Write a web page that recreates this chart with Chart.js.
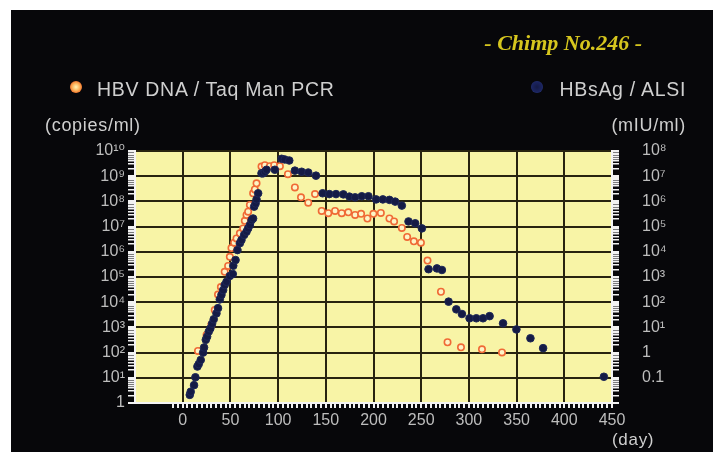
<!DOCTYPE html>
<html>
<head>
<meta charset="utf-8">
<script src="https://cdn.jsdelivr.net/npm/chart.js@4.4.1/dist/chart.umd.min.js"></script>
<style>
  body { margin: 0; background: #fff; }
  #wrap { position: relative; width: 713px; height: 452px; overflow: hidden; }
  #panel { position: absolute; left: 11px; top: 10px; width: 702px; height: 442px; background: #07070a; }
  canvas { position: absolute; left: 0; top: 0; }
  .t { position: absolute; white-space: nowrap; line-height: 1; font-family: "Liberation Sans", Arial, sans-serif; color: #cfcfcf; letter-spacing: 0.7px; }
  #title { right: 71px; top: 32px; font-family: "Liberation Serif", serif; font-style: italic; font-weight: bold; font-size: 22px; color: #d6c61e; letter-spacing: 0; }
  .dot { position: absolute; width: 12px; height: 12px; border-radius: 50%; }
  #dotA { left: 70px; top: 81px; background: radial-gradient(circle, #fff3b8 0%, #fbb860 40%, #f0641f 80%, #d84a14 100%); }
  #dotB { left: 531px; top: 81px; background: radial-gradient(circle, #141a44 0%, #1b2460 60%, #3a55a8 100%); }
</style>
</head>
<body>
<div id="wrap">
  <div id="panel"></div>
  <canvas id="chart" width="713" height="452"></canvas>
  <div class="t" id="title">- Chimp No.246 -</div>
  <div class="dot" id="dotA"></div>
  <div class="t" style="left:97px; top:79.5px; font-size:19.5px;">HBV DNA / Taq Man PCR</div>
  <div class="dot" id="dotB"></div>
  <div class="t" style="right:27px; top:79.5px; font-size:19.5px;">HBsAg / ALSI</div>
  <div class="t" style="left:45px; top:116px; font-size:18px;">(copies/ml)</div>
  <div class="t" style="right:27px; top:116px; font-size:18px;">(mIU/ml)</div>
  <div class="t" style="left:612px; top:431px; font-size:17px;">(day)</div>
</div>
<script>
// HBV DNA (copies/ml), open orange circles
const hbvDays = [16, 25, 30, 33.6, 37, 40, 44, 47.6, 49.4, 51.1, 53.9, 56.4, 59.9, 63.4, 65.1, 66.9, 68.6, 70.4,
  73.8, 75.6, 77.4, 82.6, 86.1, 91.4, 95.9, 101.9, 110.3, 117.6, 124, 131.6, 138.7, 145.7, 152.6, 159.7, 166.7,
  173.6, 180.7, 187, 193.6, 199.9, 207.7, 216.7, 221.6, 229.7, 235.3, 242.3, 249.7, 256.6, 270.7, 277.6, 291.7,
  313.7, 334.7];
const hbvDna = [117, 500, 1260, 4900, 2.0e4, 4.0e4, 1.6e5, 2.75e5, 6.3e5, 1.4e6, 2.3e6, 3.4e6, 5.4e6, 8.5e6, 1.7e7,
  2.9e7, 3.9e7, 7.2e7, 2.1e8, 3.0e8, 5.2e8, 2.4e9, 2.75e9, 2.5e9, 2.75e9, 2.5e9, 1.2e9, 3.6e8, 1.45e8, 8.9e7,
  1.95e8, 4.2e7, 3.4e7, 4.2e7, 3.4e7, 3.7e7, 2.9e7, 3.2e7, 2.1e7, 3.2e7, 3.5e7, 2.1e7, 1.6e7, 8.9e6, 3.9e6,
  2.6e6, 2.3e6, 4.5e5, 2.6e4, 257, 162, 135, 102];

// HBsAg (mIU/ml), filled navy circles
const hbsDays = [7.4, 8.4, 11.9, 13.3, 15.4, 16.8, 18.9, 21.4, 22.4, 24.2, 25.6, 27.3, 29, 30.8, 32.5, 35.4, 37,
  38.9, 40.6, 42.4, 44, 45.9, 49.4, 52.5, 53, 55.4, 57.4, 59.9, 61.6, 64.4, 66.9, 68.6, 70.4, 72.2, 73.8, 74.9,
  76.4, 77.4, 79.1, 82.6, 84.3, 86.1, 87.9, 96.6, 103.7, 107, 111.7, 117.6, 124.7, 131.6, 139.7, 146.7, 153.7,
  160.7, 168.4, 174.7, 180.7, 187.7, 194.7, 202.7, 209.8, 216.7, 222.7, 229.7, 236.7, 243.7, 250.7, 257.7,
  266.5, 271.7, 278.7, 286.8, 292.7, 300.7, 307.8, 314.8, 321.7, 335.8, 349.8, 364.5, 377.8, 441.5];
const hbsAg = [0.021, 0.028, 0.051, 0.105, 0.28, 0.35, 0.51, 1.0, 1.6, 3.2, 4.3, 6.8, 9.1, 14, 21, 36, 58,
  129, 195, 302, 479, 646, 1100, 1320, 2800, 4700, 11700, 21900, 29500, 46800, 63000, 85000, 1.15e5, 1.8e5,
  2.1e5, 6.2e5, 8.3e5, 1.2e6, 2.1e6, 1.3e7, 1.3e7, 1.5e7, 1.8e7, 1.8e7, 4.9e7, 4.6e7, 4.2e7, 1.66e7, 1.5e7,
  1.4e7, 1.05e7, 2.1e6, 1.95e6, 1.95e6, 1.9e6, 1.55e6, 1.45e6, 1.6e6, 1.6e6, 1.2e6, 1.2e6, 1.15e6, 9.8e5,
  6.8e5, 1.6e5, 1.35e5, 8.5e4, 2040, 2190, 1900, 105, 52, 34, 23, 23, 23, 28, 14.5, 8.3, 3.7, 1.5, 0.11];

// tick labels
const xTickLabels = [0, 50, 100, 150, 200, 250, 300, 350, 400, 450];
const leftTickLabels = ['1', '10¹', '10²', '10³', '10⁴', '10⁵', '10⁶', '10⁷', '10⁸', '10⁹', '10¹⁰'];   // exp 0..10
const rightTickLabels = ['', '0.1', '1', '10¹', '10²', '10³', '10⁴', '10⁵', '10⁶', '10⁷', '10⁸'];      // exp -2..8

const tickFont = { family: '"Liberation Sans", "DejaVu Sans", sans-serif', size: 16 };
const tickGray = '#bdbdbd';
const gridDark = '#29240f';

function logTicks(minExp, maxExp) {
    const t = [];
    for (let e = minExp; e <= maxExp; e++) {
        for (let m = 1; m <= 9; m++) {
            if (e === maxExp && m > 1) break;
            t.push({ value: m * Math.pow(10, e), exp: e, isMajor: m === 1 });
        }
    }
    return t;
}

const xTickValues = [];
for (let v = -10; v <= 450; v += 5) xTickValues.push(v);

const plotBg = {
    id: 'plotBg',
    beforeDraw(chart) {
        const { ctx, chartArea: a } = chart;
        ctx.save();
        ctx.fillStyle = '#f8f4a6';
        ctx.fillRect(a.left, a.top, a.right - a.left, a.bottom - a.top);
        ctx.restore();
    }
};

new Chart(document.getElementById('chart'), {
    type: 'scatter',
    data: {
        datasets: [
            {
                label: 'HBsAg / ALSI',
                data: hbsDays.map((d, i) => ({ x: d, y: hbsAg[i] })),
                yAxisID: 'y2',
                pointRadius: 3.8,
                backgroundColor: '#151b45',
                borderColor: '#1e2858',
                borderWidth: 1
            },
            {
                label: 'HBV DNA / Taq Man PCR',
                data: hbvDays.map((d, i) => ({ x: d, y: hbvDna[i] })),
                yAxisID: 'y',
                pointRadius: 3.2,
                backgroundColor: '#fdf4c6',
                borderColor: '#f06a36',
                borderWidth: 1.6
            }
        ]
    },
    options: {
        responsive: false,
        animation: false,
        layout: { padding: { top: 151, left: 0, right: 0, bottom: 0 } },
        plugins: {
            legend: { display: false },
            tooltip: { enabled: false }
        },
        scales: {
            x: {
                type: 'linear',
                min: -50,
                max: 450,
                afterBuildTicks: (scale) => { scale.ticks = xTickValues.map(v => ({ value: v })); },
                afterFit: (scale) => { scale.height = 49; },
                ticks: {
                    autoSkip: false,
                    maxRotation: 0,
                    padding: 3,
                    color: tickGray,
                    font: tickFont,
                    callback: (v) => xTickLabels.includes(v) ? String(v) : ''
                },
                grid: {
                    color: (c) => (c.tick && c.tick.value % 50 === 0) ? gridDark : 'rgba(0,0,0,0)',
                    tickColor: '#f2f2f2',
                    tickLength: 5,
                    lineWidth: 2
                },
                border: { color: '#f4f4f4', width: 2 }
            },
            y: {
                type: 'logarithmic',
                position: 'left',
                min: 1,
                max: 1e10,
                afterBuildTicks: (scale) => { scale.ticks = logTicks(0, 10); },
                afterFit: (scale) => { scale.width = 135; },
                ticks: {
                    autoSkip: false,
                    padding: 3,
                    color: tickGray,
                    font: tickFont,
                    callback: (v, i, ticks) => ticks[i].isMajor ? leftTickLabels[ticks[i].exp] : ''
                },
                grid: {
                    color: (c) => (c.tick && c.tick.isMajor) ? gridDark : 'rgba(0,0,0,0)',
                    tickColor: '#f2f2f2',
                    tickLength: 7,
                    lineWidth: (c) => (c.tick && c.tick.isMajor) ? 2 : 1.5
                },
                border: { color: '#f4f4f4', width: 2 }
            },
            y2: {
                type: 'logarithmic',
                position: 'right',
                min: 0.01,
                max: 1e8,
                afterBuildTicks: (scale) => { scale.ticks = logTicks(-2, 8); },
                afterFit: (scale) => { scale.width = 101; },
                ticks: {
                    autoSkip: false,
                    padding: 23,
                    color: tickGray,
                    font: tickFont,
                    callback: (v, i, ticks) => ticks[i].isMajor ? rightTickLabels[ticks[i].exp + 2] : ''
                },
                grid: {
                    drawOnChartArea: false,
                    color: '#f2f2f2',
                    tickColor: '#f2f2f2',
                    tickLength: 7,
                    lineWidth: (c) => (c.tick && c.tick.isMajor) ? 2 : 1.5
                },
                border: { color: '#f4f4f4', width: 2 }
            }
        }
    },
    plugins: [plotBg]
});
</script>
</body>
</html>
